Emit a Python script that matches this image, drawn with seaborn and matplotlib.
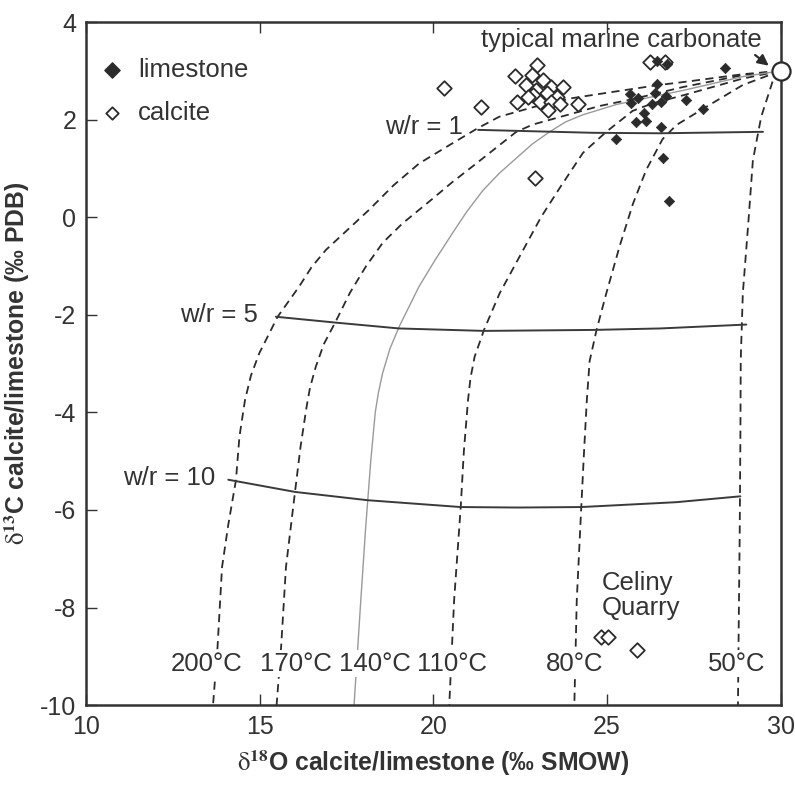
import pandas as pd
import matplotlib.pyplot as plt
import seaborn as sns

# measured samples
limestone_x = [26.44, 26.73, 28.39, 26.44, 25.67, 25.89, 25.70, 26.37, 26.71, 26.56, 26.31,
               27.27, 27.76, 26.06, 25.83, 26.13, 26.55, 25.27, 26.61, 26.79]
limestone_y = [3.21, 3.15, 3.06, 2.72, 2.52, 2.45, 2.35, 2.54, 2.48, 2.37, 2.31,
               2.40, 2.22, 2.13, 1.96, 1.98, 1.85, 1.60, 1.21, 0.33]
calcite_x = [20.30, 21.36, 22.99, 22.35, 22.83, 22.68, 23.16, 22.97, 23.40, 23.74, 22.87,
             22.72, 23.26, 23.55, 23.07, 23.40, 23.64, 23.30, 22.41, 24.17, 22.92,
             26.25, 26.66, 24.82, 25.02, 25.85]
calcite_y = [2.65, 2.26, 3.12, 2.90, 2.91, 2.71, 2.81, 2.61, 2.67, 2.67, 2.50,
             2.47, 2.54, 2.47, 2.37, 2.37, 2.33, 2.20, 2.37, 2.32, 0.81,
             3.19, 3.19, -8.61, -8.61, -8.87]
marine_x, marine_y = 30.0, 3.0

# isotherms
t200_x = [30, 28.9, 27.2, 26.5, 25.0, 24.0, 22.9, 21.9, 21.27, 20.4, 19.59, 18.85, 18.15, 17.5,
          16.91, 16.5, 16.14, 15.52, 14.99, 14.75, 14.58, 14.42, 14.32, 14.1, 13.92, 13.79, 13.66]
t200_y = [3, 2.93, 2.77, 2.71, 2.55, 2.44, 2.26, 2.06, 1.82, 1.45, 1.10, 0.65, 0.15, -0.28,
          -0.67, -1.02, -1.42, -2.04, -2.79, -3.25, -3.75, -4.5, -5.39, -6.3, -7.17, -8.81, -10]
t170_x = [30, 28.9, 27.2, 25.74, 24.79, 23.83, 22.87, 22.39, 21.91, 21.2, 20.55, 20.0, 19.11,
          18.55, 18.06, 17.6, 17.19, 16.85, 16.62, 16.45, 16.35, 16.18, 16.02, 15.76, 15.62, 15.49]
t170_y = [3, 2.91, 2.67, 2.42, 2.28, 2.09, 1.90, 1.75, 1.48, 1.08, 0.72, 0.39, -0.13,
          -0.52, -1.01, -1.55, -2.14, -2.6, -3.06, -3.5, -3.9, -4.7, -5.63, -7.17, -8.81, -10]
t140_x = [30, 28.9, 27.2, 26.52, 25.27, 24.31, 23.8, 23.35, 22.85, 22.39, 21.9, 21.43, 20.96,
          20.55, 20.05, 19.59, 19.02, 18.75, 18.54, 18.42, 18.33, 18.2, 18.05, 17.9, 17.72]
t140_y = [3, 2.88, 2.60, 2.50, 2.31, 2.10, 1.95, 1.75, 1.50, 1.21, 0.90, 0.55, 0.11,
          -0.33, -0.88, -1.42, -2.24, -2.7, -3.20, -3.6, -4.0, -5.0, -6.4, -8.0, -10]
t110_x = [30, 28.9, 27.2, 26.3, 25.74, 24.98, 24.31, 23.64, 23.1, 22.68, 21.91, 21.46,
          21.19, 21.07, 21.0, 20.88, 20.79, 20.60, 20.46]
t110_y = [3, 2.84, 2.50, 2.33, 2.18, 1.75, 1.32, 0.6, 0.0, -0.55, -1.56, -2.31,
          -2.86, -3.3, -3.75, -4.8, -5.94, -7.85, -10]
t80_x = [30, 28.91, 27.76, 27.0, 26.6, 26.13, 25.75, 25.37, 24.98, 24.70, 24.50, 24.42,
         24.34, 24.26, 24.13, 24.06]
t80_y = [3, 2.71, 2.22, 1.89, 1.6, 0.97, 0.28, -0.58, -1.56, -2.31, -2.95, -3.75,
         -4.8, -5.94, -7.85, -10]
t50_x = [30, 29.78, 29.44, 29.20, 29.06, 28.91, 28.85, 28.84, 28.82, 28.79, 28.77]
t50_y = [3, 2.81, 2.06, 1.17, -0.19, -1.56, -2.93, -4.5, -6.5, -8.5, -10]

# water/rock ratio lines
wr1_x = [21.29, 24.6, 26.52, 29.49]
wr1_y = [1.79, 1.73, 1.72, 1.75]
wr5_x = [15.47, 17.19, 19.02, 21.46, 24.6, 26.52, 29.01]
wr5_y = [-2.04, -2.16, -2.28, -2.33, -2.31, -2.28, -2.20]
wr10_x = [14.1, 16.02, 18.11, 20.79, 22.43, 24.26, 27.0, 28.84]
wr10_y = [-5.38, -5.63, -5.80, -5.94, -5.95, -5.94, -5.84, -5.72]

temp_labels = ['200°C', '170°C', '140°C', '110°C', '80°C', '50°C']
temp_label_x = [13.47, 16.04, 18.31, 20.53, 24.06, 28.73]

sns.set_style('ticks')
plt.rcParams['font.family'] = ['Liberation Sans', 'DejaVu Sans']
plt.rcParams['mathtext.fontset'] = 'stix'

fig = plt.figure(figsize=(7.95, 7.87), dpi=100)
ax = fig.add_axes([0.108, 0.104, 0.874, 0.868])

dark = '#2b2b2b'
txt = '#333333'
isotherms = [(t200_x, t200_y), (t170_x, t170_y), (t110_x, t110_y), (t80_x, t80_y), (t50_x, t50_y)]
for xs, ys in isotherms:
    sns.lineplot(x=xs, y=ys, sort=False, estimator=None, ax=ax, color=dark,
                 linewidth=1.3, linestyle=(0, (4.5, 3)))
sns.lineplot(x=t140_x, y=t140_y, sort=False, estimator=None, ax=ax, color='#9a9a9a', linewidth=1.0)

for xs, ys in [(wr1_x, wr1_y), (wr5_x, wr5_y), (wr10_x, wr10_y)]:
    sns.lineplot(x=xs, y=ys, sort=False, estimator=None, ax=ax, color='#3a3a3a', linewidth=1.4)

sns.scatterplot(x=calcite_x, y=calcite_y, marker='D', s=55, facecolor='white',
                edgecolor=dark, linewidth=1.3, ax=ax, zorder=4)
sns.scatterplot(x=limestone_x, y=limestone_y, marker='D', s=28, color=dark,
                edgecolor=dark, linewidth=0.5, ax=ax, zorder=5)
ax.scatter([marine_x], [marine_y], s=170, facecolor='white', edgecolor=dark,
           linewidth=1.6, zorder=6, clip_on=False)

# legend drawn as in the figure
ax.scatter([10.74], [3.02], marker='D', s=60, color=dark, zorder=5)
ax.scatter([10.76], [2.14], marker='D', s=40, facecolor='white', edgecolor=dark, linewidth=1.3, zorder=5)
ax.text(11.5, 3.02, 'limestone', fontsize=18.5, va='center', color=txt)
ax.text(11.5, 2.14, 'calcite', fontsize=18.5, va='center', color=txt)

ax.text(29.45, 3.63, 'typical marine carbonate', fontsize=18.5, ha='right', va='center', color=txt)
ax.annotate('', xy=(29.72, 3.07), xytext=(29.2, 3.36),
            arrowprops=dict(arrowstyle='-|>', color=dark, lw=1.6, mutation_scale=16))

ax.text(20.85, 1.85, 'w/r = 1', fontsize=18.5, ha='right', va='center', color=txt)
ax.text(14.94, -2.0, 'w/r = 5', fontsize=18.5, ha='right', va='center', color=txt)
ax.text(13.73, -5.35, 'w/r = 10', fontsize=18.5, ha='right', va='center', color=txt)

for lab, lx in zip(temp_labels, temp_label_x):
    ax.text(lx, -9.15, lab, fontsize=18.5, ha='center', va='center', color=txt,
            bbox=dict(facecolor='white', edgecolor='none', pad=1.0), zorder=3)

ax.text(24.85, -7.76, 'Celiny\nQuarry', fontsize=18.5, ha='left', va='center',
        linespacing=1.05, color=txt)

ax.set_xlim(10, 30)
ax.set_ylim(-10, 4)
ax.set_xticks([10, 15, 20, 25, 30])
ax.set_yticks([-10, -8, -6, -4, -2, 0, 2, 4])
ax.set_yticklabels(['-10', '-8', '-6', '-4', '-2', '0', '2', '4'])
ax.tick_params(direction='in', length=8, width=1.0, labelsize=18, colors=txt,
               top=True, right=False, pad=7)
for side in ax.spines.values():
    side.set_linewidth(1.8)
    side.set_color(txt)

ax.set_xlabel(r'$\mathrm{\delta}^{\mathbf{18}}$O calcite/limestone (‰ SMOW)', fontsize=17.8,
              fontweight='bold', color=txt, labelpad=7)
ax.set_ylabel(r'$\mathrm{\delta}^{\mathbf{13}}$C calcite/limestone (‰ PDB)', fontsize=17.8,
              fontweight='bold', color=txt, labelpad=6)

fig.savefig('out.png', dpi=100)
